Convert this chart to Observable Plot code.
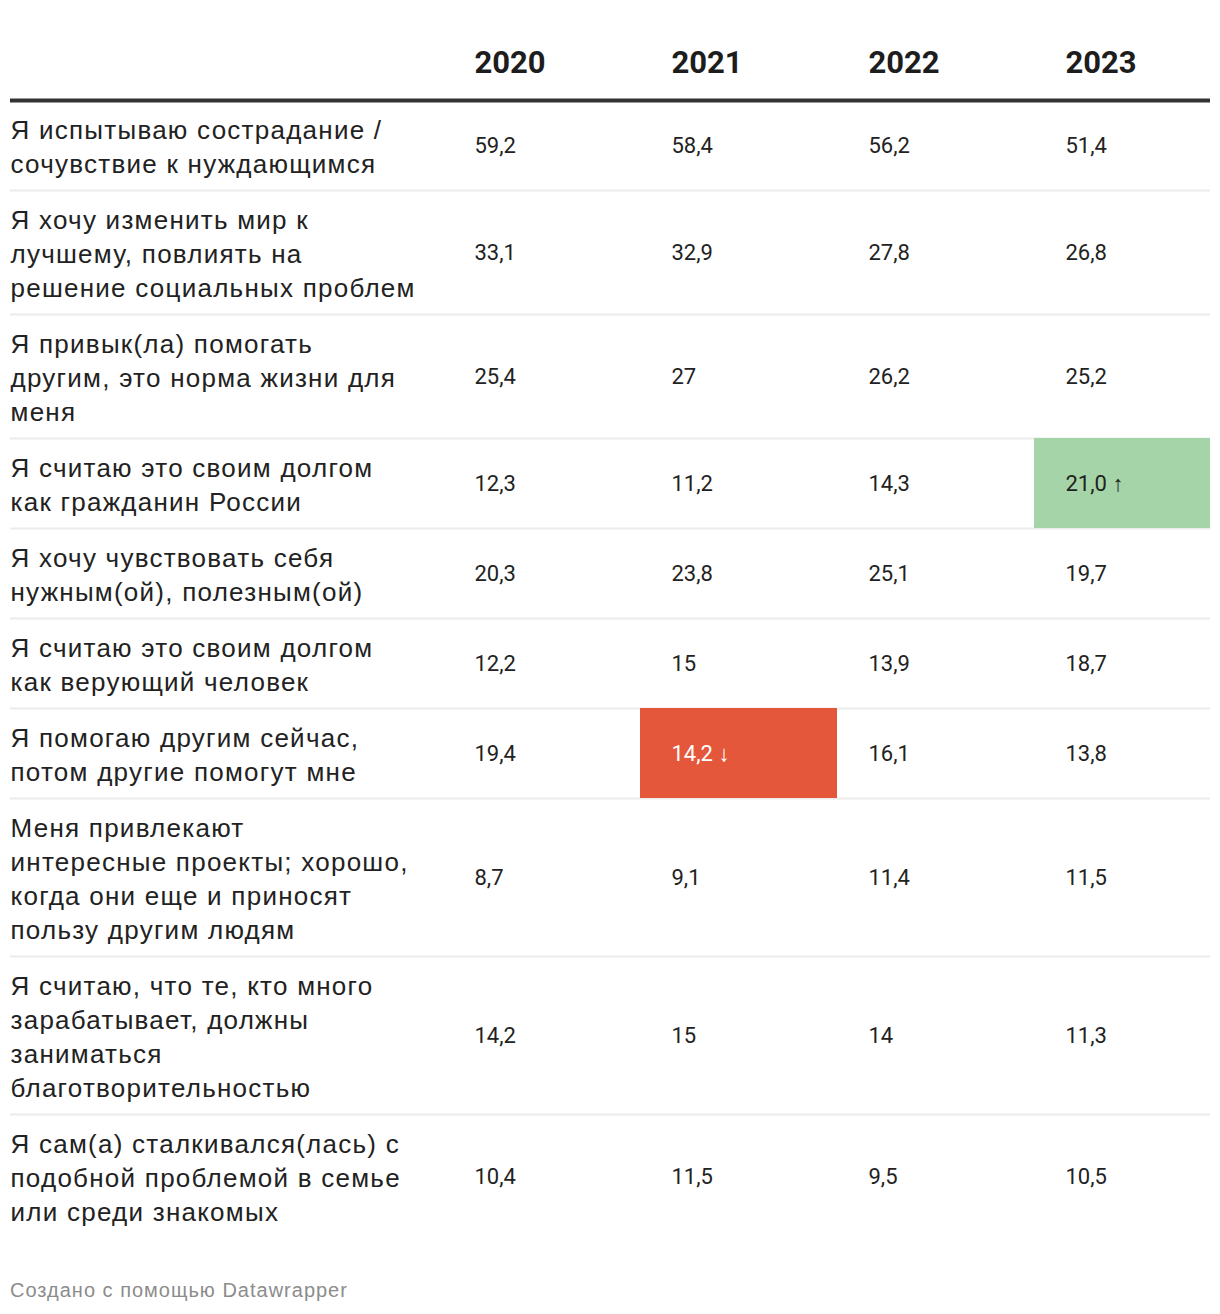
<!DOCTYPE html>
<html>
<head>
<meta charset="utf-8">
<script src="https://cdn.jsdelivr.net/npm/d3@7"></script>
<script src="https://cdn.jsdelivr.net/npm/@observablehq/plot@0.6"></script>
<style>
  html, body { margin: 0; padding: 0; background: #fff; }
  #footer { font-family: "Liberation Sans", Arial, sans-serif; font-size: 20px; color: #8c8c8c; margin: 28px 0 0 10px; line-height: 24px; letter-spacing: 1px; }
</style>
</head>
<body>
<div id="chart"></div>
<div id="footer">Создано с помощью Datawrapper</div>
<script>
const years = ["2020", "2021", "2022", "2023"];
const labels = [
  "Я испытываю сострадание /\nсочувствие к нуждающимся",
  "Я хочу изменить мир к\nлучшему, повлиять на\nрешение социальных проблем",
  "Я привык(ла) помогать\nдругим, это норма жизни для\nменя",
  "Я считаю это своим долгом\nкак гражданин России",
  "Я хочу чувствовать себя\nнужным(ой), полезным(ой)",
  "Я считаю это своим долгом\nкак верующий человек",
  "Я помогаю другим сейчас,\nпотом другие помогут мне",
  "Меня привлекают\nинтересные проекты; хорошо,\nкогда они еще и приносят\nпользу другим людям",
  "Я считаю, что те, кто много\nзарабатывает, должны\nзаниматься\nблаготворительностью",
  "Я сам(а) сталкивался(лась) с\nподобной проблемой в семье\nили среди знакомых"
];
const v2020 = [59.2, 33.1, 25.4, 12.3, 20.3, 12.2, 19.4, 8.7, 14.2, 10.4];
const v2021 = [58.4, 32.9, 27, 11.2, 23.8, 15, 14.2, 9.1, 15, 11.5];
const v2022 = [56.2, 27.8, 26.2, 14.3, 25.1, 13.9, 16.1, 11.4, 14, 9.5];
const v2023 = [51.4, 26.8, 25.2, 21.0, 19.7, 18.7, 13.8, 11.5, 11.3, 10.5];
// highlighted cells: row index, year, direction
const highlights = [
  {row: 3, year: "2023", dir: "up"},
  {row: 6, year: "2021", dir: "down"}
];

const series = {"2020": v2020, "2021": v2021, "2022": v2022, "2023": v2023};

// layout
const W = 1220, H = 1250;
const lineH = 34, rowPad = 22, tableTop = 100, headerMid = 63;
const colStart = 443, colW = 197, textInset = 31;

let acc = tableTop;
const rows = labels.map((label, i) => {
  const n = label.split("\n").length;
  const top = acc, bottom = acc + n * lineH + rowPad;
  acc = bottom;
  return {label, i, top, bottom, mid: (top + bottom) / 2};
});

const fmt = (v, fixed) => (fixed ? v.toFixed(1) : String(v)).replace(".", ",");
const cells = [];
rows.forEach(r => {
  years.forEach(y => {
    const h = highlights.find(h => h.row === r.i && h.year === y);
    const v = series[y][r.i];
    cells.push({
      year: y, top: r.top, bottom: r.bottom, mid: r.mid,
      text: h ? fmt(v, true) + " " + (h.dir === "up" ? "↑" : "↓") : fmt(v, false),
      hl: h ? h.dir : null
    });
  });
});
const hlCells = cells.filter(d => d.hl);

const chart = Plot.plot({
  width: W,
  height: H,
  marginLeft: 10, marginRight: 10, marginTop: 0, marginBottom: 0,
  x: {type: "band", domain: years, range: [colStart, colStart + colW * years.length], padding: 0, axis: null},
  y: {domain: [0, H], range: [0, H], axis: null},
  style: {background: "#fff"},
  marks: [
    Plot.ruleY(rows.slice(0, -1), {y: "bottom", stroke: "#ececec", strokeWidth: 2}),
    Plot.barY(hlCells, {x: "year", y1: "top", y2: "bottom", fill: d => d.hl === "up" ? "#a5d4a8" : "#e5573b", inset: 0, clip: true}),
    Plot.ruleY([tableTop], {stroke: "#333", strokeWidth: 4}),
    Plot.text(years, {x: d => d, y: headerMid, text: d => d, textAnchor: "start", dx: textInset - colW / 2,
      fontFamily: "Roboto", fontWeight: "bold", fontSize: 31, fill: "#1d1d1d"}),
    Plot.text(rows, {y: "mid", text: "label", frameAnchor: "left", textAnchor: "start",
      fontFamily: "Liberation Sans", fontSize: 26, lineHeight: lineH / 26, fill: "#222"}),
    Plot.text(cells, {x: "year", y: "mid", text: "text", textAnchor: "start", dx: textInset - colW / 2,
      fontFamily: "Roboto", fontSize: 22, fill: d => d.hl === "down" ? "#fff" : "#222"})
  ]
});
d3.select(chart).selectAll('g[font-family="Liberation Sans"]').attr("letter-spacing", "1.25px");
document.getElementById("chart").appendChild(chart);
</script>
</body>
</html>
